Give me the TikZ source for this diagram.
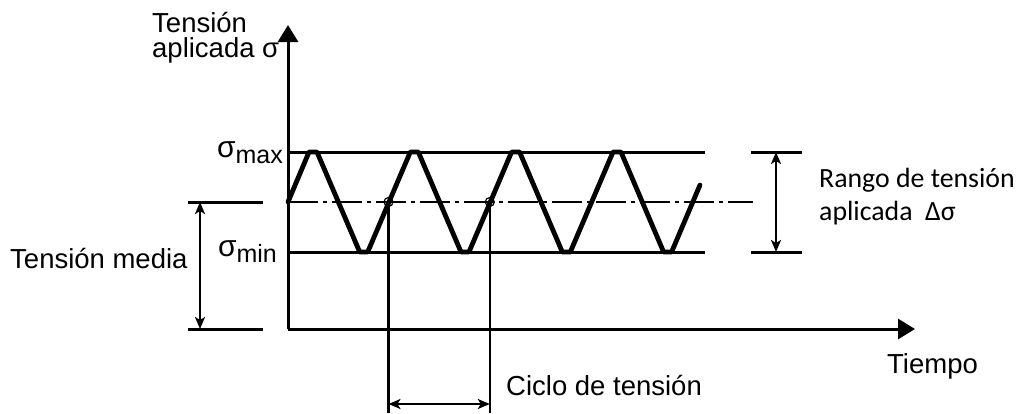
\documentclass[tikz,border=0pt]{standalone}
\usepackage{fontspec}
\setmainfont{Liberation Sans}
\newfontfamily\calib{Carlito}
\usetikzlibrary{arrows.meta}
\begin{document}
\begin{tikzpicture}[x=1pt,y=-1pt,
  lbl/.style={inner sep=0pt,anchor=base west,font=\fontsize{27.5}{32}\selectfont},
  rlbl/.style={inner sep=0pt,anchor=base west,font=\calib\fontsize{27.8}{32}\selectfont},
  axis/.style={line width=3pt,-{Triangle[length=17pt,width=20pt]}},
  level/.style={line width=3pt},
  wave/.style={line width=4.8pt,line join=round,line cap=round},
  mid/.style={line width=1.3pt,dash pattern=on 30pt off 5pt on 4pt off 5pt},
  dim/.style={line width=2.4pt,{Stealth[length=12pt,width=10pt,inset=3pt]}-{Stealth[length=12pt,width=10pt,inset=3pt]}},
  vline/.style={line width=2.6pt}]
\useasboundingbox (0,0) rectangle (1022,413);
% coordinates
\coordinate (O) at (288,329);
\coordinate (ytip) at (288,25);
\coordinate (xtip) at (915,329);
\coordinate (maxL) at (288,152);
\coordinate (maxR) at (705,152);
\coordinate (minL) at (288,252);
\coordinate (minR) at (705,252);
\coordinate (midL) at (288,202);
\coordinate (midR) at (753,202);
\coordinate (lt1) at (188,202);
\coordinate (lt2) at (263,202);
\coordinate (lb1) at (188,329);
\coordinate (lb2) at (263,329);
\coordinate (la) at (200,202);
\coordinate (lb) at (200,329);
\coordinate (rt1) at (751,152);
\coordinate (rt2) at (802,152);
\coordinate (rb1) at (751,252);
\coordinate (rb2) at (802,252);
\coordinate (ra) at (776,152);
\coordinate (rb) at (776,252);
\coordinate (c1b) at (388.5,413);
\coordinate (c2b) at (489.8,413);
\coordinate (d1) at (388.5,404);
\coordinate (d2) at (489.8,404);
% levels
\draw[level] (maxL) -- (maxR);
\draw[level] (minL) -- (minR);
\draw[mid] (midL) -- (midR);
% axes
\draw[axis] (O) -- (ytip);
\draw[axis] (O) -- (xtip);
% wave
\draw[wave] (288,202) -- (309,152) -- (317,152) -- (359.7,252) -- (367.7,252)
  -- (410.3,152) -- (418.3,152) -- (461,252) -- (469,252)
  -- (511.6,152) -- (519.6,152) -- (562.3,252) -- (570.3,252)
  -- (613,152) -- (621,152) -- (663.6,252) -- (671.6,252) -- (700,185);
% crossing marks
\node[circle,draw,line width=1.2pt,minimum size=9pt,inner sep=0pt] (c1) at (388.5,202) {};
\node[circle,draw,line width=1.2pt,minimum size=9pt,inner sep=0pt] (c2) at (489.8,202) {};
\draw[vline] (c1.center) -- (c1b);
\draw[vline] (c2.center) -- (c2b);
\draw[dim] (d1) -- (d2);
% left dimension
\draw[level] (lt1) -- (lt2);
\draw[level] (lb1) -- (lb2);
\draw[dim] (la) -- (lb);
% right dimension
\draw[level] (rt1) -- (rt2);
\draw[level] (rb1) -- (rb2);
\draw[dim] (ra) -- (rb);
% labels
\node[lbl] (t1) at (152,32) {Tensión};
\node[lbl] (t2) at (152,57) {aplicada σ};
\node[lbl,anchor=base east] (smax) at (283,157) {{\fontsize{30}{32}\selectfont σ}\raisebox{-6pt}{\fontsize{25}{28}\selectfont max}};
\node[lbl,anchor=base east] (smin) at (277,256) {{\fontsize{30}{32}\selectfont σ}\raisebox{-6pt}{\fontsize{25}{28}\selectfont min}};
\node[lbl] (media) at (10,268) {Tensión media};
\node[lbl] (ciclo) at (506,395) {Ciclo de tensión};
\node[lbl] (tiempo) at (887,373) {Tiempo};
\node[rlbl] (r1) at (819,187) {Rango de tensión};
\node[rlbl] (r2) at (819,220) {aplicada\ \ Δσ};
\end{tikzpicture}
\end{document}
